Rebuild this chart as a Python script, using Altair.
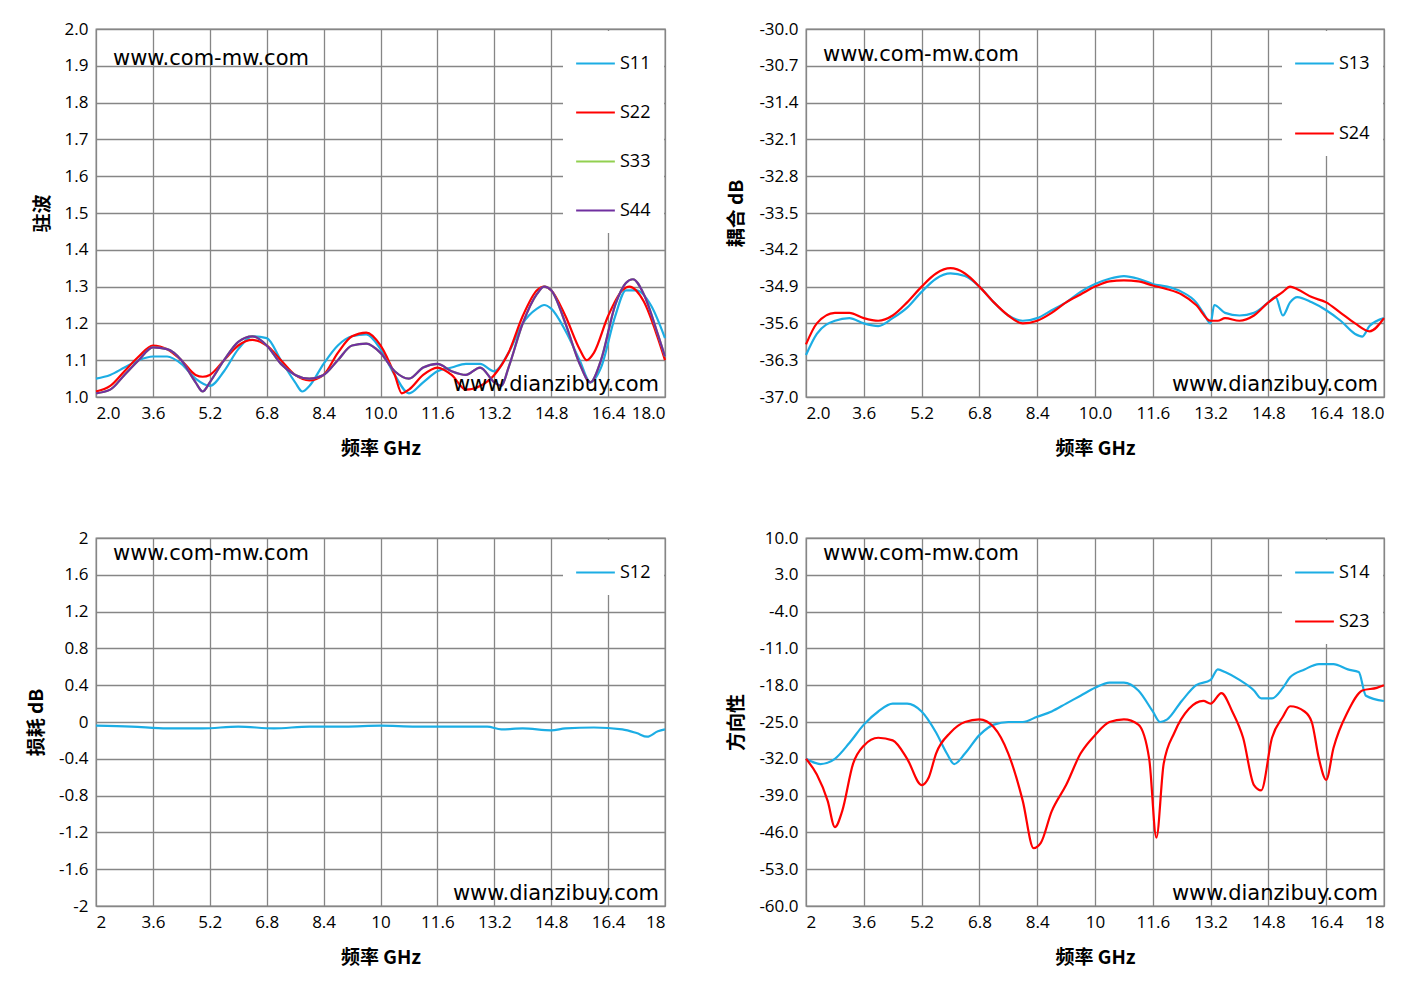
import altair as alt
import pandas as pd

# ---- data ----
s11_x = [2.0,2.4,2.8,3.2,3.6,4.0,4.4,4.8,5.2,5.6,6.0,6.4,6.8,7.2,7.6,7.8,8.0,8.4,8.8,9.2,9.6,10.0,10.4,10.8,11.2,11.6,12.0,12.4,12.8,13.2,13.6,14.0,14.4,14.6,14.8,15.2,15.6,15.9,16.2,16.6,16.9,17.2,17.6,18.0]
s11_y = [1.05,1.06,1.08,1.10,1.11,1.11,1.09,1.05,1.03,1.07,1.13,1.165,1.16,1.10,1.04,1.015,1.03,1.09,1.14,1.165,1.17,1.13,1.06,1.01,1.04,1.07,1.08,1.09,1.09,1.07,1.12,1.20,1.24,1.25,1.24,1.18,1.10,1.04,1.08,1.22,1.29,1.29,1.25,1.16]
s22_x = [2.0,2.4,2.8,3.2,3.6,4.0,4.4,4.8,5.0,5.2,5.6,6.0,6.4,6.8,7.2,7.6,8.0,8.4,8.8,9.2,9.6,10.0,10.4,10.6,10.8,11.2,11.6,12.0,12.4,12.8,13.2,13.6,14.0,14.4,14.6,14.8,15.2,15.6,15.8,16.0,16.4,16.8,17.0,17.4,17.8,18.0]
s22_y = [1.015,1.03,1.07,1.11,1.14,1.13,1.10,1.06,1.055,1.06,1.10,1.14,1.155,1.14,1.10,1.06,1.045,1.06,1.12,1.165,1.175,1.14,1.06,1.01,1.02,1.06,1.08,1.06,1.02,1.03,1.06,1.12,1.22,1.29,1.30,1.29,1.22,1.13,1.10,1.12,1.22,1.29,1.30,1.26,1.16,1.10]
s44_x = [2.0,2.4,2.8,3.2,3.6,4.0,4.4,4.8,5.0,5.2,5.6,6.0,6.4,6.8,7.2,7.6,8.0,8.4,8.8,9.2,9.6,10.0,10.4,10.8,11.2,11.6,12.0,12.4,12.8,13.2,13.4,13.6,14.0,14.4,14.6,14.8,15.2,15.6,15.9,16.2,16.6,16.9,17.1,17.4,17.8,18.0]
s44_y = [1.01,1.02,1.06,1.10,1.135,1.13,1.10,1.04,1.015,1.04,1.10,1.15,1.165,1.14,1.09,1.06,1.05,1.06,1.10,1.14,1.145,1.12,1.07,1.05,1.08,1.09,1.07,1.06,1.08,1.04,1.03,1.08,1.20,1.28,1.30,1.29,1.20,1.09,1.04,1.10,1.25,1.31,1.32,1.28,1.17,1.11]
s33_x = s44_x
s33_y = s44_y

s13_x = [2.0,2.3,2.8,3.2,3.6,4.0,4.4,4.8,5.2,5.6,6.0,6.4,6.8,7.2,7.6,8.0,8.4,8.8,9.2,9.6,10.0,10.4,10.8,11.2,11.6,12.0,12.4,12.8,13.0,13.2,13.3,13.6,14.0,14.4,14.8,15.0,15.2,15.4,15.6,16.0,16.4,16.8,17.2,17.4,17.6,18.0]
s13_y = [-36.2,-35.8,-35.55,-35.5,-35.6,-35.65,-35.5,-35.3,-35.0,-34.75,-34.65,-34.7,-34.9,-35.2,-35.45,-35.55,-35.5,-35.35,-35.2,-35.0,-34.85,-34.75,-34.7,-34.75,-34.85,-34.9,-35.0,-35.2,-35.4,-35.6,-35.25,-35.4,-35.45,-35.4,-35.2,-35.1,-35.45,-35.2,-35.1,-35.2,-35.35,-35.55,-35.8,-35.85,-35.65,-35.5]
s24_x = [2.0,2.3,2.8,3.2,3.6,4.0,4.4,4.8,5.2,5.6,6.0,6.4,6.8,7.2,7.6,8.0,8.4,8.8,9.2,9.6,10.0,10.4,10.8,11.2,11.6,12.0,12.4,12.8,13.2,13.4,13.6,14.0,14.4,14.8,15.2,15.4,15.6,16.0,16.4,16.8,17.2,17.6,18.0]
s24_y = [-36.0,-35.6,-35.4,-35.4,-35.5,-35.55,-35.45,-35.2,-34.9,-34.65,-34.55,-34.65,-34.9,-35.2,-35.45,-35.6,-35.55,-35.4,-35.2,-35.05,-34.9,-34.8,-34.78,-34.8,-34.88,-34.95,-35.05,-35.25,-35.55,-35.55,-35.5,-35.55,-35.45,-35.2,-35.0,-34.9,-34.95,-35.1,-35.2,-35.4,-35.6,-35.75,-35.5]

s12_x = [2,3,4,5,6,7,8,9,10,11,12,13,13.4,14,14.8,15.2,16,16.8,17.2,17.5,17.8,18]
s12_y = [-0.04,-0.05,-0.07,-0.07,-0.05,-0.07,-0.05,-0.05,-0.04,-0.05,-0.05,-0.05,-0.08,-0.07,-0.09,-0.07,-0.06,-0.08,-0.12,-0.16,-0.10,-0.08]

s14_x = [2,2.4,2.8,3.2,3.6,4.0,4.4,4.8,5.2,5.6,5.9,6.1,6.4,6.8,7.2,7.6,8.0,8.4,8.8,9.2,9.6,10.0,10.4,10.8,11.2,11.6,11.8,12.0,12.4,12.8,13.2,13.4,13.6,14.0,14.4,14.6,14.9,15.2,15.4,15.8,16.2,16.6,17.0,17.3,17.5,18]
s14_y = [-32,-33,-32,-29,-25.5,-23,-21.5,-21.5,-23,-27,-31,-33,-31,-27.5,-25.5,-25,-25,-24,-23,-21.5,-20,-18.5,-17.5,-17.5,-19,-23,-25,-24.5,-21,-18,-17,-15,-15.5,-17,-19,-20.5,-20.5,-18.5,-16.5,-15,-14,-14,-15,-15.5,-20,-21]
s23_x = [2,2.3,2.6,2.8,3.0,3.3,3.6,4.0,4.4,4.8,5.2,5.4,5.6,6.0,6.4,6.8,7.2,7.6,8.0,8.3,8.5,8.8,9.2,9.6,10.0,10.4,10.8,11.2,11.5,11.7,11.9,12.2,12.6,13.0,13.2,13.5,13.8,14.1,14.4,14.6,14.9,15.2,15.4,15.8,16.0,16.2,16.4,16.6,17.0,17.4,17.8,18]
s23_y = [-32,-35,-40,-45,-42,-33,-29.5,-28,-28.5,-32,-37,-35.5,-31,-27,-25,-24.5,-26,-31,-40,-49,-48,-42,-37,-31,-27.5,-25,-24.5,-25.5,-32,-47,-33,-27,-22.5,-21,-21.5,-19.5,-23,-28,-37,-38,-28,-24,-22,-23,-25,-32,-36,-30,-23,-19,-18.5,-18]

x_ticks = [2.0,3.6,5.2,6.8,8.4,10.0,11.6,13.2,14.8,16.4,18.0]

BLUE = "#1CADE4"; RED = "#FF0000"; GREEN = "#92D050"; PURPLE = "#7030A0"
GRID = "#868686"
CJK = "Noto Sans CJK SC"
LBL = "Open Sans"
H = 368

FMT1 = "replace(format(datum.value, '.1f'), '\u2212', '-')"
FMTG = "replace(toString(round(datum.value * 10) / 10), '\u2212', '-')"


def df(series):
    rows = []
    for name, xs, ys in series:
        for i, (a, b) in enumerate(zip(xs, ys)):
            rows.append({"f": a, "v": b, "s": name, "o": i})
    return pd.DataFrame(rows)


def panel(series, colors, ydom, yticks, yexpr, xexpr, ytitle, wm_top_y, rowpad, W):
    d = df(series)
    names = [s[0] for s in series]
    line = alt.Chart(d).mark_line(strokeWidth=2.2, interpolate="monotone").encode(
        x=alt.X("f:Q", scale=alt.Scale(domain=[2, 18], nice=False, zero=False),
                axis=alt.Axis(values=x_ticks, labelExpr=xexpr, labelOverlap=False, title="频率  GHz",
                              titleFont=CJK, titleFontSize=19, titleFontWeight="bold", titlePadding=18,
                              labelFont=LBL, labelFontSize=17, labelPadding=8, tickSize=0,
                              grid=True, gridColor=GRID, gridWidth=1.3, domain=False)),
        y=alt.Y("v:Q", scale=alt.Scale(domain=ydom, nice=False, zero=False),
                axis=alt.Axis(values=yticks, labelExpr=yexpr, labelOverlap=False, title=ytitle,
                              titleFont=CJK, titleFontSize=19, titleFontWeight="bold", titlePadding=12,
                              labelFont=LBL, labelFontSize=17, labelPadding=8, tickSize=0,
                              grid=True, gridColor=GRID, gridWidth=1.3, domain=False)),
        color=alt.Color("s:N", scale=alt.Scale(domain=names, range=colors),
                        legend=alt.Legend(orient="top-right", title=None, fillColor="white",
                                          symbolType="stroke", symbolStrokeWidth=2,
                                          symbolSize=1500, labelFont=LBL, labelFontSize=18,
                                          rowPadding=rowpad, padding=12, offset=2, labelColor="black")),
        detail="s:N",
        order="o:Q",
    )
    wm1 = alt.Chart(pd.DataFrame({"t": ["www.com-mw.com"]})).mark_text(
        align="left", baseline="middle", fontSize=21, font="DejaVu Sans", color="black"
    ).encode(text="t:N", x=alt.value(17), y=alt.value(wm_top_y))
    wm2 = alt.Chart(pd.DataFrame({"t": ["www.dianzibuy.com"]})).mark_text(
        align="right", baseline="middle", fontSize=21, font="DejaVu Sans", color="black"
    ).encode(text="t:N", x=alt.value(W - 6), y=alt.value(H - 12))
    return alt.layer(line, wm1, wm2).properties(width=W, height=H)


tl = panel([("S11", s11_x, s11_y), ("S22", s22_x, s22_y), ("S33", s33_x, s33_y), ("S44", s44_x, s44_y)],
           [BLUE, RED, GREEN, PURPLE], [1.0, 2.0], [1.0 + 0.1 * i for i in range(11)], FMT1, FMT1,
           "驻波", 30, 19, 569)
tr = panel([("S13", s13_x, s13_y), ("S24", s24_x, s24_y)], [BLUE, RED], [-37, -30],
           [-37 + 0.7 * i for i in range(11)], FMT1, FMT1, "耦合 dB", 26, 40, 578)
bl = panel([("S12", s12_x, s12_y)], [BLUE], [-2, 2], [-2 + 0.4 * i for i in range(11)], FMTG, FMTG,
           "损耗 dB", 16, 19, 569)
br = panel([("S14", s14_x, s14_y), ("S23", s23_x, s23_y)], [BLUE, RED], [-60, 10],
           [-60 + 7 * i for i in range(11)], FMT1, FMTG, "方向性", 16, 19, 578)

chart = alt.vconcat(
    alt.hconcat(tl, tr, spacing=56).resolve_scale(color="independent"),
    alt.hconcat(bl, br, spacing=56).resolve_scale(color="independent"),
    spacing=69,
).resolve_scale(color="independent").properties(
    padding={"left": 18, "top": 11, "right": 5, "bottom": 5}
).configure_view(stroke=GRID, strokeWidth=1.3).configure_axis(
    labelColor="black", titleColor="black"
).configure_legend(strokeColor="white")

chart.save("out.html", embed_options={"renderer": "svg", "actions": False})
